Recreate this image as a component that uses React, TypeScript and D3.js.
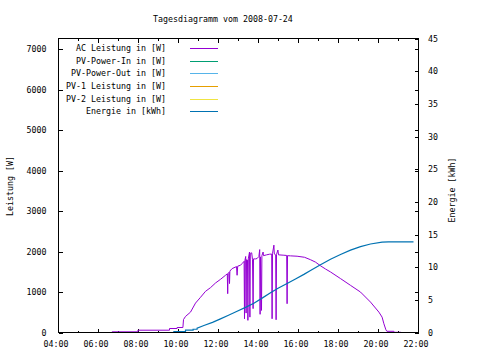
import React from 'react';
import * as d3 from 'd3';

// AC power (W) over the day, hours as decimal
const acHours = [
  6.32, 6.68, 6.68, 7.97, 7.97, 9.55, 9.55, 9.93, 9.93, 10.22, 10.25, 10.35, 10.6, 10.85, 11.1,
  11.35, 11.6, 11.85, 12.1, 12.35, 12.44, 12.46, 12.48, 12.53, 12.55, 12.57, 12.68, 12.9, 12.93,
  12.96, 13.1, 13.18, 13.28, 13.3, 13.32, 13.36, 13.38, 13.4, 13.45, 13.47, 13.49, 13.55, 13.57,
  13.59, 13.66, 13.7, 13.73, 13.75, 13.85, 13.93, 14.02, 14.06, 14.08, 14.1, 14.15, 14.17, 14.23,
  14.25, 14.4, 14.55, 14.66, 14.68, 14.7, 14.77, 14.79, 14.86, 14.88, 14.9, 14.97, 15.0, 15.27,
  15.41, 15.43, 15.45, 15.6, 15.93, 16.3, 16.6, 16.85, 17.1, 17.35, 17.6, 18.1, 18.6, 19.1, 19.6,
  20.02, 20.18, 20.27, 20.37, 20.42, 20.77, 20.79, 21.13,
];
const acWatts = [
  0, 0, 17, 17, 57, 57, 99, 99, 124, 124, 320, 397, 504, 727, 870,
  1018, 1109, 1224, 1315, 1415, 1450, 960, 1460, 1490, 1210, 1520, 1580, 1630, 1415,
  1640, 1663, 1705, 1760, 340, 1780, 1880, 480, 1800, 1790, 300, 1820, 1990, 380,
  1960, 1970, 1800, 590, 1820, 1820, 1830, 1880, 2050, 450, 1870, 546, 1900, 1990,
  1900, 1920, 1936, 1940, 340, 1950, 2160, 1940, 1920, 315, 1930, 2040, 1920, 1911,
  1905, 712, 1900, 1895, 1886, 1860, 1800, 1740, 1650, 1570, 1497, 1333, 1166, 1000, 752,
  504, 380, 216, 67, 30, 30, 5, 5,
];

// cumulative energy (kWh)
const energyHours = [
  7.8, 9.77, 9.77, 10.35, 10.35, 10.73, 10.73, 10.93, 10.93, 11.27, 11.7, 12.1, 12.5, 12.93, 13.35,
  13.77, 14.2, 14.6, 15.0, 15.43, 15.85, 16.27, 16.6, 17.1, 17.6, 18.1, 18.6, 19.1, 19.6, 20.18,
  20.5, 21.75,
];
const energyKwh = [
  0, 0, 0.15, 0.15, 0.35, 0.35, 0.5, 0.5, 0.65, 1.07, 1.55, 2.09, 2.65, 3.26, 3.85,
  4.49, 5.3, 6.1, 6.8, 7.5, 8.2, 8.9, 9.49, 10.36, 11.2, 11.94, 12.6, 13.15, 13.55, 13.82,
  13.86, 13.86,
];

const legendLabels = [
  'AC Leistung in [W]',
  'PV-Power-In in [W]',
  'PV-Power-Out in [W]',
  'PV-1 Leistung in [W]',
  'PV-2 Leistung in [W]',
  'Energie in [kWh]',
];
const legendColors = ['#9400d3', '#009e73', '#56b4e9', '#e69f00', '#f0e442', '#0072b2'];

const powerTicks = [0, 1000, 2000, 3000, 4000, 5000, 6000, 7000];
const energyTicks = [0, 5, 10, 15, 20, 25, 30, 35, 40, 45];
const hourTicks = [4, 6, 8, 10, 12, 14, 16, 18, 20, 22];
const hourMinor = d3.range(5, 22, 2);

const left = 58.5, right = 418.5, top = 38.5, bottom = 332.5;
const font = '"DejaVu Sans Mono", monospace';
const fs = 8.3;

export default function App() {
  const x = d3.scaleLinear().domain([4, 22]).range([left, right]);
  const yL = d3.scaleLinear().domain([0, 7270]).range([bottom, top]);
  const yR = d3.scaleLinear().domain([0, 45]).range([bottom, top]);

  const acLine = d3.line<number>()
    .x((d, i) => x(acHours[i]))
    .y((d) => yL(d));
  const enLine = d3.line<number>()
    .x((d, i) => x(energyHours[i]))
    .y((d) => yR(d));

  const pad = (h: number) => (h < 10 ? '0' + h : '' + h) + ':00';

  return (
    <svg width={480} height={360} style={{ position: 'absolute', left: 0, top: 0, background: '#fff' }}>
      <rect x={0} y={0} width={480} height={360} fill="#fff" />
      <text x={153} y={22} fontFamily={font} fontSize={fs}>Tagesdiagramm vom 2008-07-24</text>

      <g stroke="#000" strokeWidth={1} shapeRendering="crispEdges">
        {powerTicks.map((t) => (
          <g key={'p' + t}>
            <line x1={left} x2={left + 4} y1={Math.round(yL(t)) + 0.5} y2={Math.round(yL(t)) + 0.5} />
            <line x1={right - 4} x2={right} y1={Math.round(yL(t)) + 0.5} y2={Math.round(yL(t)) + 0.5} />
          </g>
        ))}
        {energyTicks.map((t) => (
          <line key={'e' + t} x1={right - 4} x2={right} y1={Math.round(yR(t)) + 0.5} y2={Math.round(yR(t)) + 0.5} />
        ))}
        {hourTicks.map((t) => (
          <g key={'h' + t}>
            <line x1={x(t)} x2={x(t)} y1={bottom} y2={bottom - 4} />
            <line x1={x(t)} x2={x(t)} y1={top} y2={top + 4} />
          </g>
        ))}
        {hourMinor.map((t) => (
          <g key={'m' + t}>
            <line x1={x(t)} x2={x(t)} y1={bottom} y2={bottom - 2} />
            <line x1={x(t)} x2={x(t)} y1={top} y2={top + 2} />
          </g>
        ))}
      </g>

      <g fontFamily={font} fontSize={fs} fill="#000">
        {powerTicks.map((t) => (
          <text key={'pl' + t} x={46.5} y={yL(t) + 3} textAnchor="end">{t}</text>
        ))}
        {energyTicks.map((t) => (
          <text key={'el' + t} x={428} y={yR(t) + 3}>{t}</text>
        ))}
        {hourTicks.map((t) => (
          <text key={'hl' + t} x={x(t) - 2.5} y={347} textAnchor="middle">{pad(t)}</text>
        ))}
        <text transform="translate(13,186) rotate(-90)" textAnchor="middle">Leistung [W]</text>
        <text transform="translate(455,190) rotate(-90)" textAnchor="middle">Energie [kWh]</text>
      </g>

      <g fontFamily={font} fontSize={fs}>
        {legendLabels.map((l, i) => (
          <g key={l}>
            <text x={166} y={48 + i * 12.67 + 3} textAnchor="end">{l}</text>
            <line x1={190} x2={218} y1={Math.round(48 + i * 12.67) + 0.5} y2={Math.round(48 + i * 12.67) + 0.5}
              stroke={legendColors[i]} strokeWidth={1} />
          </g>
        ))}
      </g>

      <path d={acLine(acWatts) ?? ''} fill="none" stroke={legendColors[0]} strokeWidth={1} />
      <path d={enLine(energyKwh) ?? ''} fill="none" stroke={legendColors[5]} strokeWidth={1.2} />

      <rect x={left} y={top} width={right - left} height={bottom - top} fill="none" stroke="#000"
        strokeWidth={1} shapeRendering="crispEdges" />
    </svg>
  );
}
